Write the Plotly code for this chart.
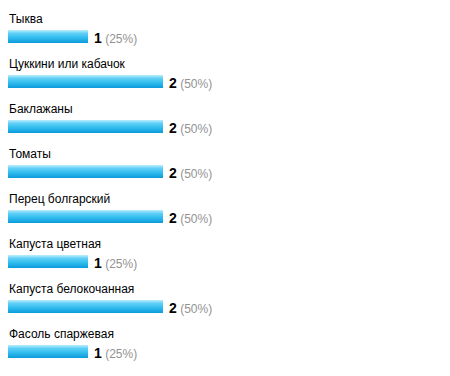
import plotly.graph_objects as go

# Survey results: vegetable, number of votes, share of respondents
categories = [
    "Тыква",
    "Цуккини или кабачок",
    "Баклажаны",
    "Томаты",
    "Перец болгарский",
    "Капуста цветная",
    "Капуста белокочанная",
    "Фасоль спаржевая",
]
votes = [1, 2, 2, 2, 2, 1, 2, 1]
percents = [25, 50, 50, 50, 50, 25, 50, 25]

W, H = 450, 376
ROW_PX = 45          # vertical pitch of one row
BAR_PX = 13          # bar thickness
FIRST_CENTER_PX = 36.5
ZERO_PX = 13         # pixel position of zero votes
CAP_PX = 5           # bars start a few pixels left of zero
UNIT_PX = 75         # horizontal pixels per vote

half = BAR_PX / 2 / ROW_PX
y_top = FIRST_CENTER_PX / ROW_PX
y_bottom = -(H - FIRST_CENTER_PX) / ROW_PX
x_left = -ZERO_PX / UNIT_PX
x_right = (W - ZERO_PX) / UNIT_PX
x_start = -CAP_PX / UNIT_PX

gradient = [[0.0, "#0b9bdb"], [0.45, "#36bff0"], [0.75, "#62d0f6"], [1.0, "#bdeefd"]]
FONT = "Liberation Sans, Arial, sans-serif"

fig = go.Figure()
annotations = []
for i, (name, v, p) in enumerate(zip(categories, votes, percents)):
    yc = -i
    fig.add_trace(go.Scatter(
        x=[x_start, v, v, x_start, x_start],
        y=[yc - half, yc - half, yc + half, yc + half, yc - half],
        mode="lines",
        line=dict(width=0),
        fill="toself",
        fillgradient=dict(type="vertical", colorscale=gradient,
                          start=yc - half, stop=yc + half),
        hoverinfo="skip",
        showlegend=False,
    ))
    annotations.append(dict(
        x=x_start, y=yc + (FIRST_CENTER_PX - 19) / ROW_PX,
        xref="x", yref="y", xanchor="left", yanchor="middle",
        xshift=-1,
        text=name, showarrow=False,
        font=dict(family=FONT, size=12, color="#000000"),
    ))
    annotations.append(dict(
        x=v, y=yc, xref="x", yref="y", xanchor="left", yanchor="middle",
        xshift=4, yshift=-1,
        text=f"<b>{v}</b><span style='font-size:12px;color:#939393'> ({p}%)</span>",
        showarrow=False,
        font=dict(family=FONT, size=14, color="#000000"),
    ))

fig.update_layout(
    width=W, height=H,
    margin=dict(l=0, r=0, t=0, b=0),
    paper_bgcolor="#ffffff", plot_bgcolor="#ffffff",
    xaxis=dict(range=[x_left, x_right], visible=False, fixedrange=True),
    yaxis=dict(range=[y_bottom, y_top], visible=False, fixedrange=True),
    annotations=annotations,
    showlegend=False,
)

fig.write_html("out.html", config={"displayModeBar": False})
